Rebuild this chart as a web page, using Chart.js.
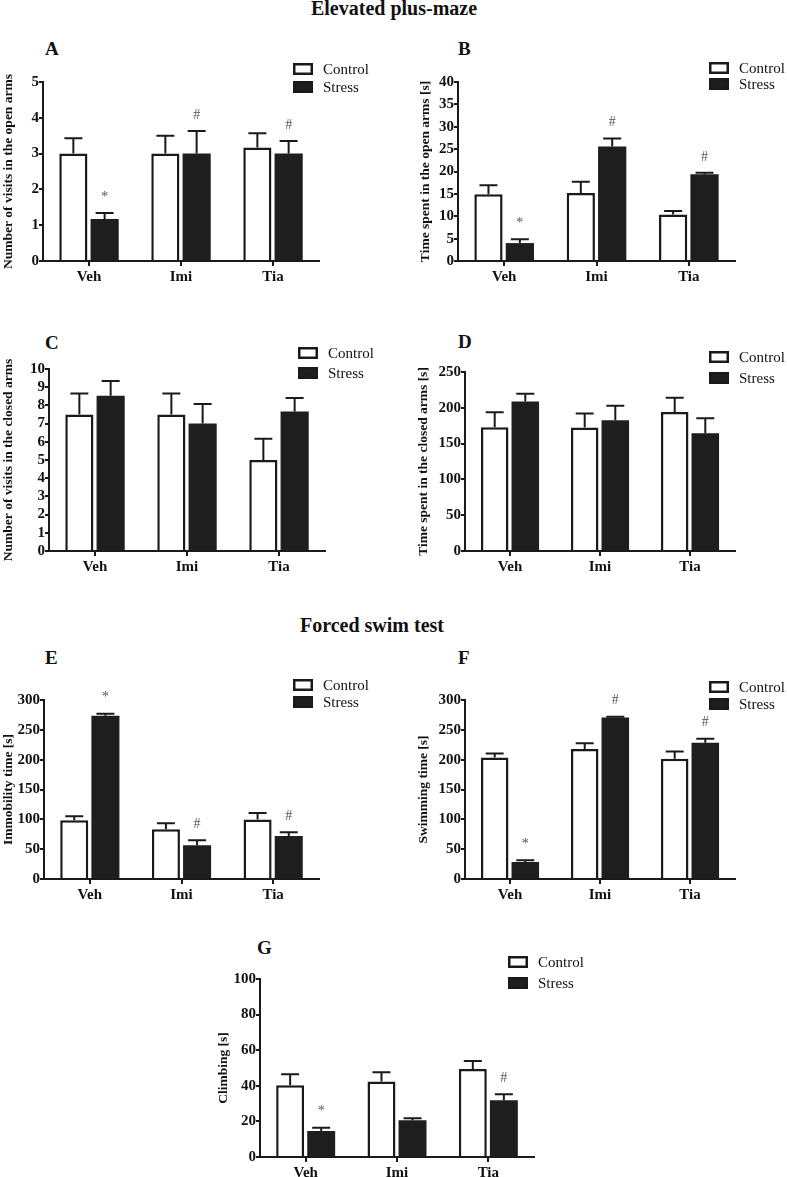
<!DOCTYPE html>
<html>
<head>
<meta charset="utf-8">
<script src="https://cdn.jsdelivr.net/npm/chart.js@4.4.1/dist/chart.umd.min.js"></script>
<style>
body { margin:0; background:#fff; width:787px; height:1177px; position:relative; overflow:hidden; font-family:"Liberation Serif", serif; color:#111; }
canvas { position:absolute; }
.title { position:absolute; font-weight:bold; font-size:20px; line-height:20px; text-align:center; width:240px; white-space:nowrap; }
.letter { position:absolute; font-weight:bold; font-size:19px; line-height:19px; }
</style>
</head>
<body>
<div class="title" style="left:274px;top:-2px">Elevated plus-maze</div>
<div class="title" style="left:252px;top:615px">Forced swim test</div>
<div class="letter" style="left:45px;top:39px">A</div>
<div class="letter" style="left:458px;top:39px">B</div>
<div class="letter" style="left:45px;top:333px">C</div>
<div class="letter" style="left:458px;top:332px">D</div>
<div class="letter" style="left:45px;top:648px">E</div>
<div class="letter" style="left:458px;top:648px">F</div>
<div class="letter" style="left:257px;top:938px">G</div>
<script>
// values (mean, upper SEM)
var groups = ['Veh', 'Imi', 'Tia'];
var seriesNames = ['Control', 'Stress'];

// A - visits in open arms
var aControl = [3.0, 3.0, 3.17], aControlSem = [0.43, 0.5, 0.4];
var aStress = [1.17, 3.0, 3.0], aStressSem = [0.17, 0.63, 0.35];
var aMarks = ['*', '#', '#'];
// B - time in open arms
var bControl = [14.9, 15.2, 10.4], bControlSem = [2.0, 2.5, 0.8];
var bStress = [4.0, 25.6, 19.4], bStressSem = [0.85, 1.8, 0.3];
var bMarks = ['*', '#', '#'];
// C - visits in closed arms
var cControl = [7.5, 7.5, 5.0], cControlSem = [1.15, 1.15, 1.17];
var cStress = [8.53, 7.0, 7.67], cStressSem = [0.81, 1.08, 0.73];
var cMarks = ['', '', ''];
// D - time in closed arms
var dControl = [172.9, 172.4, 194], dControlSem = [21, 19.6, 20];
var dStress = [208.9, 182.7, 164.5], dStressSem = [10.7, 20.1, 21];
var dMarks = ['', '', ''];
// E - immobility
var eControl = [98.5, 83.4, 99.6], eControlSem = [6.5, 10, 11.2];
var eStress = [273.6, 56.5, 72.2], eStressSem = [3.4, 8.5, 6.2];
var eMarks = ['*', '#', '#'];
// F - swimming
var fControl = [203.7, 217.7, 201.5], fControlSem = [6.7, 10, 12.3];
var fStress = [28.5, 270.8, 228.3], fStressSem = [2.8, 1.2, 6.7];
var fMarks = ['*', '#', '#'];
// G - climbing
var gControl = [40.3, 42.4, 49.4], gControlSem = [6.2, 5.2, 4.6];
var gStress = [14.6, 20.6, 31.9], gStressSem = [1.9, 1.2, 3.4];
var gMarks = ['*', '', '#'];

var ink = '#1a1a1a';

var errorBars = {
	id: 'errorBars',
	afterDatasetsDraw: function(chart) {
		var ctx = chart.ctx, y = chart.scales.y;
		ctx.save();
		ctx.strokeStyle = ink;
		ctx.lineWidth = 2;
		chart.data.datasets.forEach(function(ds, i) {
			chart.getDatasetMeta(i).data.forEach(function(bar, j) {
				var top = y.getPixelForValue(ds.data[j] + ds.sem[j]);
				ctx.beginPath();
				ctx.moveTo(bar.x, bar.y);
				ctx.lineTo(bar.x, top);
				ctx.moveTo(bar.x - 9, top);
				ctx.lineTo(bar.x + 9, top);
				ctx.stroke();
				if (ds.marks && ds.marks[j]) {
					ctx.fillStyle = '#555';
					ctx.font = '14px "Liberation Serif"';
					ctx.textAlign = 'center';
					ctx.textBaseline = 'middle';
					ctx.fillText(ds.marks[j], bar.x, top - 16);
				}
			});
		});
		ctx.restore();
	}
};

var boxLegend = {
	id: 'boxLegend',
	afterDraw: function(chart, args, opts) {
		var ctx = chart.ctx;
		ctx.save();
		chart.data.datasets.forEach(function(ds, i) {
			var y = opts.y + i * opts.gap;
			ctx.fillStyle = ds.backgroundColor;
			ctx.fillRect(opts.x, y - 6, 20, 12);
			ctx.strokeStyle = ink;
			ctx.lineWidth = 2.5;
			ctx.strokeRect(opts.x + 1.25, y - 4.75, 17.5, 9.5);
			ctx.fillStyle = '#111';
			ctx.font = '15px "Liberation Serif"';
			ctx.textAlign = 'left';
			ctx.textBaseline = 'middle';
			ctx.fillText(ds.label, opts.x + 30, y + 1);
		});
		ctx.restore();
	}
};

var panels = [
	{ yTitle: 'Number of visits in the open arms', max: 5, step: 1, control: aControl, controlSem: aControlSem, stress: aStress, stressSem: aStressSem, marks: aMarks,
		box: {x: 0, y: 30, w: 380, h: 257}, plot: {l: 43, t: 82, r: 319, b: 261}, legend: {x: 293, y: 69, gap: 18} },
	{ yTitle: 'Time spent in the open arms [s]', max: 40, step: 5, control: bControl, controlSem: bControlSem, stress: bStress, stressSem: bStressSem, marks: bMarks,
		box: {x: 417, y: 30, w: 370, h: 257}, plot: {l: 458, t: 82, r: 735, b: 261}, legend: {x: 709, y: 68, gap: 16} },
	{ yTitle: 'Number of visits in the closed arms', max: 10, step: 1, control: cControl, controlSem: cControlSem, stress: cStress, stressSem: cStressSem, marks: cMarks,
		box: {x: 0, y: 318, w: 388, h: 259}, plot: {l: 49, t: 369, r: 325, b: 551}, legend: {x: 298, y: 353, gap: 20} },
	{ yTitle: 'Time spent in the closed arms [s]', max: 250, step: 50, control: dControl, controlSem: dControlSem, stress: dStress, stressSem: dStressSem, marks: dMarks,
		box: {x: 415, y: 318, w: 372, h: 259}, plot: {l: 465, t: 372, r: 735, b: 551}, legend: {x: 709, y: 357, gap: 21} },
	{ yTitle: 'Immobility time [s]', max: 300, step: 50, control: eControl, controlSem: eControlSem, stress: eStress, stressSem: eStressSem, marks: eMarks,
		box: {x: 0, y: 645, w: 380, h: 260}, plot: {l: 44, t: 700, r: 319, b: 879}, legend: {x: 293, y: 685, gap: 17} },
	{ yTitle: 'Swimming time [s]', max: 300, step: 50, control: fControl, controlSem: fControlSem, stress: fStress, stressSem: fStressSem, marks: fMarks,
		box: {x: 415, y: 645, w: 372, h: 260}, plot: {l: 465, t: 700, r: 735, b: 879}, legend: {x: 709, y: 687, gap: 17} },
	{ yTitle: 'Climbing [s]', max: 100, step: 20, control: gControl, controlSem: gControlSem, stress: gStress, stressSem: gStressSem, marks: gMarks,
		box: {x: 215, y: 925, w: 390, h: 258}, plot: {l: 260, t: 979, r: 534, b: 1157}, legend: {x: 508, y: 962, gap: 21} }
];

panels.forEach(function(p) {
	var canvas = document.createElement('canvas');
	canvas.width = p.box.w;
	canvas.height = p.box.h;
	canvas.style.left = p.box.x + 'px';
	canvas.style.top = p.box.y + 'px';
	document.body.appendChild(canvas);
	var leftW = p.plot.l - p.box.x;
	var bottomH = p.box.y + p.box.h - p.plot.b;
	var tickFont = { family: 'Liberation Serif', size: 15, weight: 'bold' };
	new Chart(canvas, {
		type: 'bar',
		data: {
			labels: groups,
			datasets: [
				{ label: seriesNames[0], data: p.control, sem: p.controlSem, backgroundColor: '#ffffff', borderColor: ink, borderWidth: 2.5 },
				{ label: seriesNames[1], data: p.stress, sem: p.stressSem, marks: p.marks, backgroundColor: '#1e1e1e', borderColor: '#1e1e1e', borderWidth: 0 }
			]
		},
		options: {
			responsive: false,
			animation: false,
			layout: { padding: { top: p.plot.t - p.box.y, right: p.box.x + p.box.w - p.plot.r, left: 0, bottom: 0 } },
			datasets: { bar: { categoryPercentage: 0.68, barPercentage: 0.9 } },
			plugins: {
				legend: { display: false },
				tooltip: { enabled: false },
				boxLegend: { x: p.legend.x - p.box.x, y: p.legend.y - p.box.y, gap: p.legend.gap }
			},
			scales: {
				x: {
					offset: true,
					grid: { offset: false, drawOnChartArea: false, color: ink, lineWidth: 2, tickLength: 5 },
					border: { color: ink, width: 2 },
					ticks: { color: '#111', font: tickFont, padding: 2 },
					afterFit: function(s) { s.height = bottomH; }
				},
				y: {
					min: 0, max: p.max,
					grid: { drawOnChartArea: false, color: ink, lineWidth: 2, tickLength: 4 },
					border: { color: ink, width: 2 },
					ticks: { stepSize: p.step, autoSkip: false, color: '#111', font: tickFont, padding: 0 },
					title: { display: true, text: p.yTitle, color: '#111', font: { family: 'Liberation Serif', size: 13.5, weight: 'bold' }, padding: { top: 0, bottom: 0 } },
					afterFit: function(s) { s.width = leftW; }
				}
			}
		},
		plugins: [errorBars, boxLegend]
	});
});
</script>
</body>
</html>
